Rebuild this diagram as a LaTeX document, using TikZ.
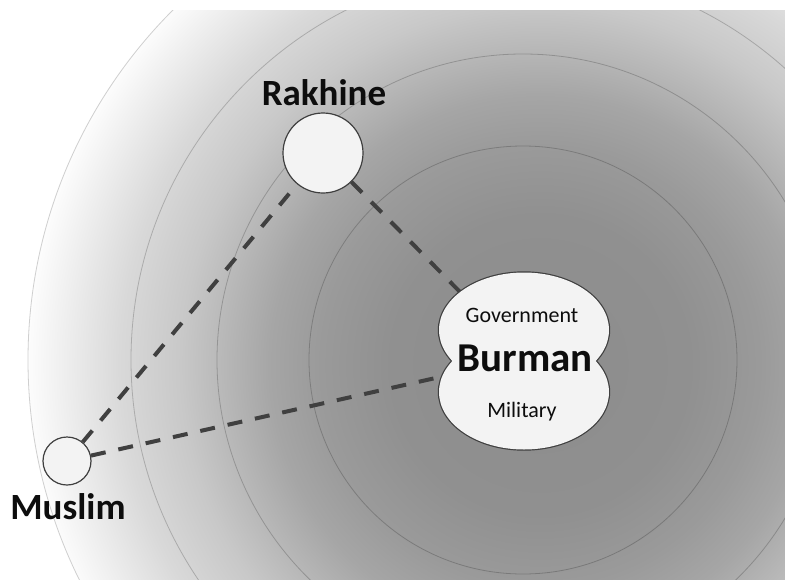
\documentclass[tikz,border=0pt]{standalone}
\usepackage{fontspec}
\setmainfont{Carlito}
\definecolor{nodefill}{HTML}{F3F3F3}
\definecolor{edgecol}{HTML}{3F3F3F}
\definecolor{linkcol}{HTML}{404040}
\definecolor{outercol}{HTML}{CFCFCF}
\definecolor{txtcol}{HTML}{0D0D0D}
\pgfdeclarelayer{bg}
\pgfdeclarelayer{links}
\pgfsetlayers{bg,links,main}
\pgfdeclareradialshading{field}{\pgfpoint{0bp}{0bp}}{%
  color(0bp)=(black!45);
  color(7.2bp)=(black!43.5);
  color(10.6bp)=(black!39.5);
  color(13bp)=(black!35);
  color(17.3bp)=(black!21.5);
  color(20.2bp)=(black!15);
  color(22.1bp)=(black!9);
  color(24bp)=(black!3);
  color(25bp)=(white);
  color(50bp)=(white)}
\begin{document}
\begin{tikzpicture}[x=1pt,y=-1pt,
  party/.style={circle,draw=edgecol,line width=1.2pt,fill=nodefill,inner sep=0pt},
  biglabel/.style={font=\bfseries\fontsize{37}{40}\selectfont,text=txtcol,inner sep=0pt,anchor=base},
  smalllabel/.style={font=\fontsize{22}{24}\selectfont,text=txtcol,inner sep=0pt,anchor=base},
  link/.style={draw=linkcol,line width=4pt,dash pattern=on 15pt off 13pt},
  ring/.style={draw=black,draw opacity=0.2,line width=0.8pt},
  outerring/.style={draw=outercol,line width=0.8pt}]
\useasboundingbox (0,0) rectangle (785,579);
\begin{pgfonlayer}{bg}
  \fill[white] (0,0) rectangle (785,579);
  \begin{scope}
    \clip (0,10) rectangle (785,579);
    \begin{scope}
      \clip (523,360) circle (495pt);
      \shade[shading=field] (540,365) circle (520pt);
    \end{scope}
    \draw[outerring] (523,360) circle (495pt);
    \foreach \r in {214,306,392} \draw[ring] (523,360) circle (\r pt);
  \end{scope}
\end{pgfonlayer}
% Burman shape (two overlapping ellipses, outer outline only)
\path[draw=edgecol,line width=2.4pt,fill=nodefill]
  (524,330) ellipse (85pt and 57.5pt) (524,392) ellipse (85pt and 57.5pt);
\fill[nodefill] (524,330) ellipse (85pt and 57.5pt) (524,392) ellipse (85pt and 57.5pt);
\node[biglabel,font=\bfseries\fontsize{41}{44}\selectfont] (bur) at (525,371) {Burman};
\node[smalllabel] (gov) at (522,322) {Government};
\node[smalllabel] (mil) at (522,417) {Military};
% small parties
\node[party,minimum size=80pt] (rak) at (323,153) {};
\node[party,minimum size=48pt] (mus) at (67,461) {};
\node[biglabel] (raklab) at (324,105) {Rakhine};
\node[biglabel] (muslab) at (68,519) {Muslim};
\begin{pgfonlayer}{links}
  \draw[link] (rak) -- (bur.center);
  \draw[link] (mus) -- (rak);
  \draw[link] (mus) -- (bur.center);
\end{pgfonlayer}
\end{tikzpicture}
\end{document}
